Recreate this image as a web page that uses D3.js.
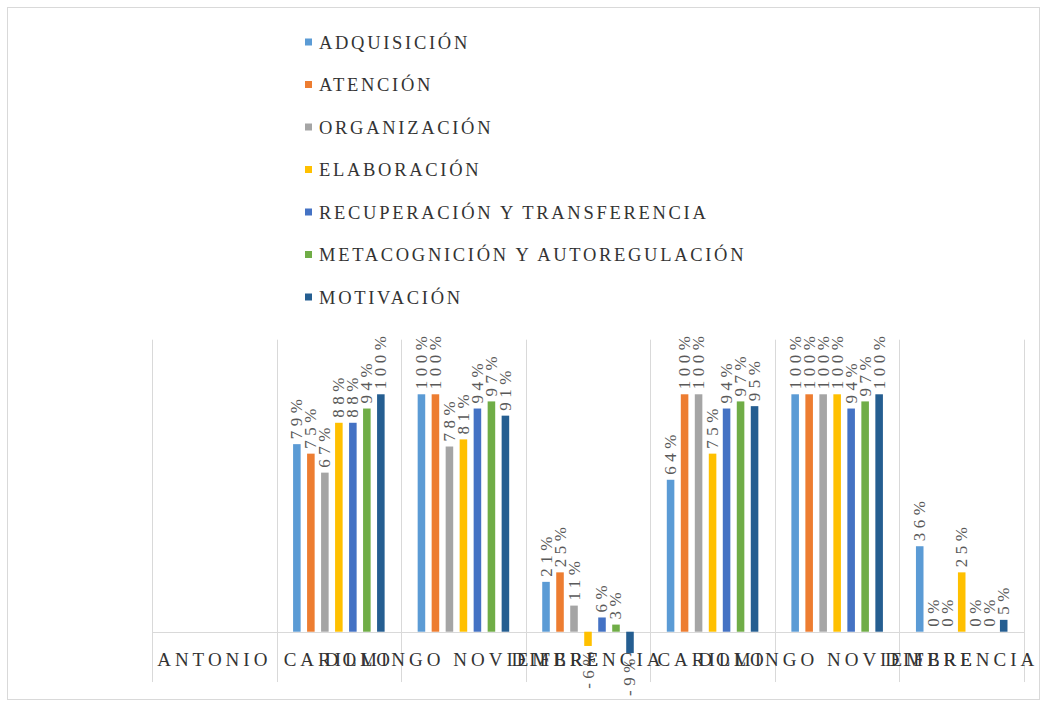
<!DOCTYPE html>
<html>
<head>
<meta charset="utf-8">
<script src="https://cdn.jsdelivr.net/npm/d3@7"></script>
<style>
  html, body { margin: 0; padding: 0; background: #ffffff; }
  svg { display: block; }
</style>
</head>
<body>
<svg id="chart" width="1047" height="706"></svg>
<script>
// ---------- DATA ----------
const categories = ["ANTONIO", "CARILLO", "DOMINGO NOVIEMBRE", "DIFERENCIA", "CARILLO", "DOMINGO NOVIEMBRE", "DIFERENCIA"];
const seriesNames = ["ADQUISICIÓN", "ATENCIÓN", "ORGANIZACIÓN", "ELABORACIÓN", "RECUPERACIÓN Y TRANSFERENCIA", "METACOGNICIÓN Y AUTOREGULACIÓN", "MOTIVACIÓN"];
const adquisicion   = [null, 79, 100, 21, 64, 100, 36];
const atencion      = [null, 75, 100, 25, 100, 100, 0];
const organizacion  = [null, 67, 78, 11, 100, 100, 0];
const elaboracion   = [null, 88, 81, -6, 75, 100, 25];
const recuperacion  = [null, 88, 94, 6, 94, 94, 0];
const metacognicion = [null, 94, 97, 3, 97, 97, 0];
const motivacion    = [null, 100, 91, -9, 95, 100, 5];
const seriesValues = [adquisicion, atencion, organizacion, elaboracion, recuperacion, metacognicion, motivacion];
const colors = ["#5B9BD5", "#ED7D31", "#A5A5A5", "#FFC000", "#4472C4", "#70AD47", "#255E91"];

// ---------- LAYOUT ----------
const svg = d3.select("#chart");
const font = "'Liberation Serif', 'DejaVu Serif', 'Times New Roman', serif";
const textColor = "#333333";

// chart border
svg.append("rect")
  .attr("x", 7.5).attr("y", 7.5).attr("width", 1032).attr("height", 692)
  .attr("fill", "#fff").attr("stroke", "#d9d9d9").attr("stroke-width", 1);

const plot = { left: 152, right: 1024 };
const y = d3.scaleLinear().domain([-20, 120]).range([679.2, 346.8]);
const x0 = d3.scaleBand().domain(d3.range(categories.length)).range([plot.left, plot.right]).padding(0);
const x1 = d3.scaleBand().domain(d3.range(seriesNames.length)).range([0, x0.bandwidth()])
  .paddingInner(0.46).paddingOuter(1.18);

// vertical category gridlines
const gridX = d3.range(categories.length + 1).map(i => plot.left + i * x0.step());
svg.append("g").selectAll("line").data(gridX).join("line")
  .attr("x1", d => Math.round(d) + 0.5).attr("x2", d => Math.round(d) + 0.5)
  .attr("y1", y(123)).attr("y2", y(-21.2))
  .attr("stroke", "#d9d9d9").attr("stroke-width", 1);

// zero axis line
svg.append("line")
  .attr("x1", plot.left).attr("x2", plot.right)
  .attr("y1", Math.round(y(0)) + 0.5).attr("y2", Math.round(y(0)) + 0.5)
  .attr("stroke", "#d9d9d9").attr("stroke-width", 1);

// bars
const barData = [];
seriesValues.forEach((vals, s) => {
  vals.forEach((v, c) => { if (v !== null) barData.push({ s, c, v }); });
});

svg.append("g").selectAll("rect").data(barData).join("rect")
  .attr("x", d => x0(d.c) + x1(d.s))
  .attr("width", x1.bandwidth())
  .attr("y", d => y(Math.max(0, d.v)))
  .attr("height", d => Math.abs(y(d.v) - y(0)))
  .attr("fill", d => colors[d.s]);

// data labels (rotated)
svg.append("g").selectAll("text").data(barData).join("text")
  .attr("transform", d => {
    const cx = x0(d.c) + x1(d.s) + x1.bandwidth() / 2 + 5.5;
    const yy = d.v >= 0 ? y(d.v) - 5 : y(d.v) + 1;
    return `translate(${cx},${yy}) rotate(-90)`;
  })
  .attr("text-anchor", d => d.v >= 0 ? "start" : "end")
  .attr("font-family", font)
  .attr("font-size", 17)
  .attr("letter-spacing", 4.5)
  .attr("fill", "#595959")
  .text(d => d.v + "%");

// category labels
svg.append("g").selectAll("text").data(categories).join("text")
  .attr("x", (d, i) => x0(i) + x0.bandwidth() / 2)
  .attr("y", 666)
  .attr("text-anchor", "middle")
  .attr("font-family", font)
  .attr("font-size", 19)
  .attr("letter-spacing", 4)
  .attr("fill", textColor)
  .text(d => d);

// legend
const legY0 = 42, legStep = 42.5;
const leg = svg.append("g").selectAll("g").data(seriesNames).join("g")
  .attr("transform", (d, i) => `translate(305, ${legY0 + i * legStep})`);
leg.append("rect").attr("x", 0).attr("y", -3.5).attr("width", 7).attr("height", 7)
  .attr("fill", (d, i) => colors[i]);
leg.append("text").attr("x", 14).attr("y", 6.5)
  .attr("font-family", font).attr("font-size", 18.5).attr("letter-spacing", 2.7)
  .attr("fill", textColor)
  .text(d => d);
</script>
</body>
</html>
